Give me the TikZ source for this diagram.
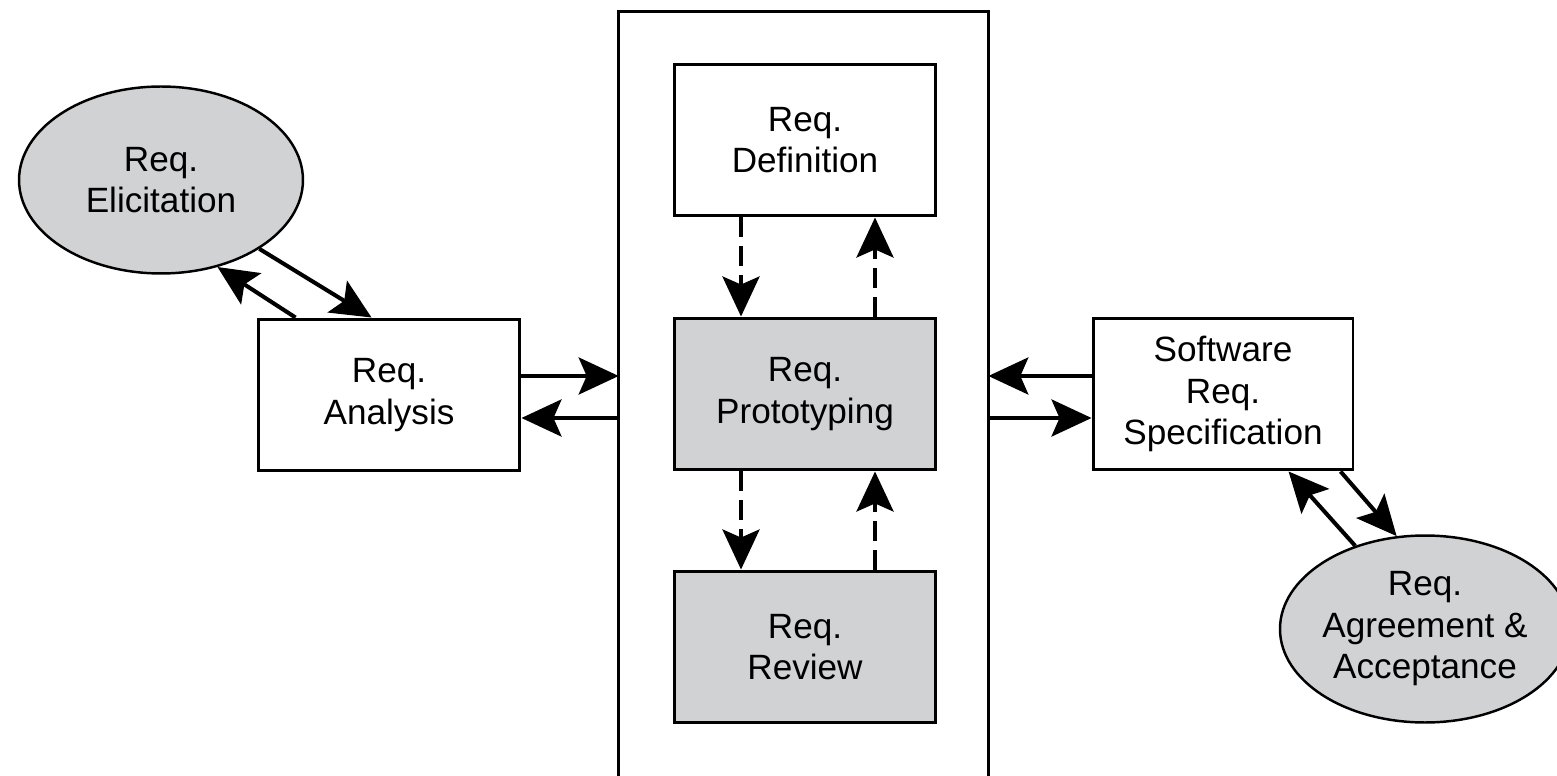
\documentclass[tikz,border=0pt]{standalone}
\usepackage{fontspec}
\setmainfont{Liberation Sans}
\usetikzlibrary{arrows.meta,shapes.geometric,calc}
\definecolor{boxgray}{RGB}{209,210,212}

\begin{document}
\begin{tikzpicture}[x=0.02cm,y=-0.02cm,
  every node/.style={font=\fontsize{20}{23.6}\selectfont, align=center, inner sep=0pt},
  box/.style={draw, line width=1.7pt, fill=white, minimum width=5.22cm, minimum height=3.04cm},
  graybox/.style={box, fill=boxgray},
  oval/.style={ellipse, draw, line width=1.4pt, fill=boxgray, minimum width=5.68cm, minimum height=3.74cm},
  link/.style={line width=2.3pt, -{Stealth[length=0.8cm,width=0.74cm,inset=0.16cm]}},
  dlink/.style={link, dash pattern=on 0.4cm off 0.18cm}]

\useasboundingbox[fill=white] (0,0) rectangle (1557,776);

% outer stages
\node[oval] (eli) at (161,180) {Req.\\Elicitation};
\node[box, minimum width=5.24cm] (ana) at (389,395) {Req.\\Analysis};
\node[box, minimum width=5.2cm] (srs) at (1223,394) {Software\\Req.\\Specification};
\node[oval] (acc) at (1425,629) {Req.\\Agreement \&\\Acceptance};

% open frame around the prototyping loop
\node[minimum width=7.38cm, minimum height=15.36cm] (frame) at (803.5,396) {};
\draw[line width=1.7pt] (frame.south west) -- (frame.north west) -- (frame.north east) -- (frame.south east);

\node[box] (def) at (805,140) {Req.\\Definition};
\node[graybox] (pro) at (805,394) {Req.\\Prototyping};
\node[graybox] (rev) at (805,647) {Req.\\Review};

% helper levels for parallel connectors
\coordinate (hi) at (0,376);
\coordinate (lo) at (0,418);
\coordinate (dl) at (741,0);
\coordinate (dr) at (875,0);

% horizontal exchanges
\draw[link] (ana.east |- hi) -- (frame.west |- hi);
\draw[link] (frame.west |- lo) -- (ana.east |- lo);
\draw[link] (srs.west |- hi) -- (frame.east |- hi);
\draw[link] (frame.east |- lo) -- (srs.west |- lo);

% dashed loop inside the frame
\draw[dlink] (def.south -| dl) -- (pro.north -| dl);
\draw[dlink] (pro.north -| dr) -- (def.south -| dr);
\draw[dlink] (pro.south -| dl) -- (rev.north -| dl);
\draw[dlink] (rev.north -| dr) -- (pro.south -| dr);

% diagonal exchanges
\draw[link] (eli.-35) -- ($(ana.north west)+(115,0)$);
\draw[link] ($(ana.north west)+(39,0)$) -- (eli.-57);
\draw[link] ($(srs.south west)+(249,0)$) -- (acc.107);
\draw[link] (acc.130) -- ($(srs.south west)+(197,0)$);
\end{tikzpicture}
\end{document}
